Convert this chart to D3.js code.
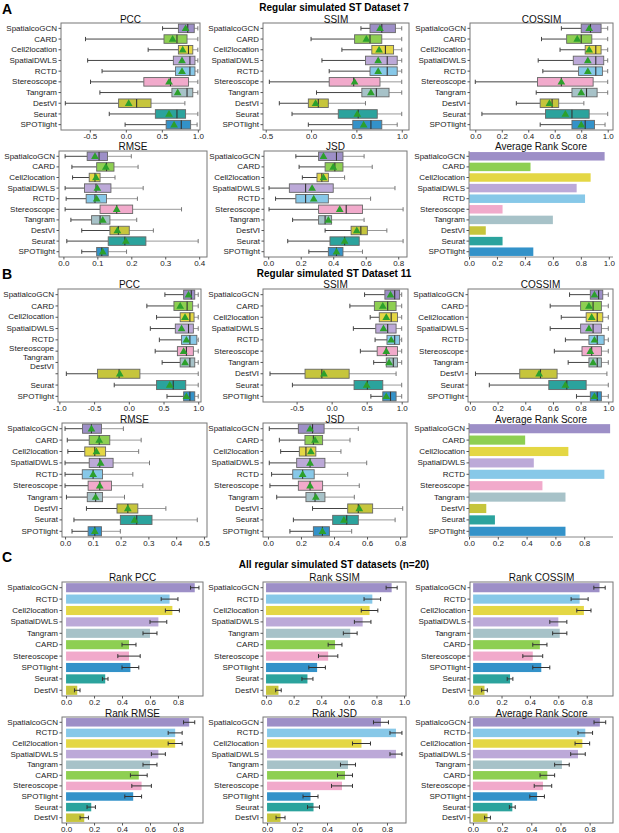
<!DOCTYPE html>
<html>
<head>
<meta charset="utf-8">
<script src="https://cdn.jsdelivr.net/npm/d3@7"></script>
<style>
  body { margin: 0; background: #fff; }
  text { font-family: "Liberation Sans", Arial, sans-serif; }
</style>
</head>
<body>
<div id="chart"></div>
<script>
// Method order used in panels A and B
const methodsAB = ['SpatialcoGCN', 'CARD', 'Cell2location', 'SpatialDWLS', 'RCTD',
  'Stereoscope', 'Tangram', 'DestVI', 'Seurat', 'SPOTlight'];
// Method order used in panel C (sorted by rank)
const methodsC = ['SpatialcoGCN', 'RCTD', 'Cell2location', 'SpatialDWLS', 'Tangram',
  'CARD', 'Stereoscope', 'SPOTlight', 'Seurat', 'DestVI'];

// Box stats per method: [low whisker, q1, median, q3, high whisker, mean]
const a7PCC = [
  [0.51, 0.73, 0.86, 0.95, 1.0, 0.83], [-0.56, 0.53, 0.71, 0.85, 1.0, 0.65],
  [0.31, 0.73, 0.87, 0.93, 1.0, 0.79], [-0.53, 0.66, 0.89, 0.96, 1.0, 0.78],
  [-0.33, 0.69, 0.89, 0.96, 1.0, 0.78], [-0.49, 0.25, 0.62, 0.87, 1.0, 0.60],
  [-0.36, 0.64, 0.85, 0.93, 1.0, 0.72], [-0.84, -0.10, 0.15, 0.35, 0.82, 0.04],
  [-0.23, 0.41, 0.71, 0.83, 1.0, 0.60], [-0.01, 0.56, 0.77, 0.90, 0.99, 0.67]
];
const a7SSIM = [
  [0.55, 0.65, 0.78, 0.93, 1.0, 0.76], [0.0, 0.48, 0.65, 0.78, 1.0, 0.61],
  [0.34, 0.67, 0.82, 0.91, 1.0, 0.75], [0.12, 0.60, 0.84, 0.95, 1.0, 0.74],
  [0.20, 0.65, 0.84, 0.95, 1.0, 0.74], [-0.46, 0.20, 0.47, 0.76, 1.0, 0.48],
  [0.06, 0.56, 0.72, 0.86, 1.0, 0.66], [-0.35, -0.03, 0.08, 0.19, 0.60, 0.05],
  [-0.21, 0.30, 0.52, 0.73, 1.0, 0.51], [-0.03, 0.46, 0.66, 0.78, 0.95, 0.58]
];
const a7COSSIM = [
  [0.65, 0.80, 0.87, 0.95, 1.0, 0.86], [0.50, 0.69, 0.80, 0.88, 1.0, 0.77],
  [0.64, 0.83, 0.91, 0.95, 1.0, 0.86], [0.475, 0.74, 0.91, 0.97, 1.0, 0.85],
  [0.51, 0.78, 0.91, 0.96, 1.0, 0.85], [0.0, 0.47, 0.65, 0.89, 1.0, 0.65],
  [0.46, 0.73, 0.84, 0.92, 1.0, 0.80], [0.31, 0.49, 0.58, 0.63, 0.82, 0.56],
  [0.05, 0.53, 0.73, 0.86, 1.0, 0.68], [0.49, 0.73, 0.83, 0.90, 0.98, 0.80]
];
const a7RMSE = [
  [0.005, 0.07, 0.105, 0.13, 0.20, 0.093], [0.025, 0.098, 0.127, 0.149, 0.22, 0.125],
  [0.027, 0.076, 0.093, 0.108, 0.152, 0.096], [0.005, 0.062, 0.096, 0.14, 0.235, 0.10],
  [0.008, 0.067, 0.093, 0.127, 0.218, 0.098], [0.005, 0.108, 0.157, 0.204, 0.348, 0.157],
  [0.022, 0.083, 0.108, 0.137, 0.216, 0.116], [0.054, 0.137, 0.162, 0.194, 0.265, 0.159],
  [0.01, 0.132, 0.181, 0.243, 0.397, 0.184], [0.054, 0.098, 0.113, 0.132, 0.186, 0.116]
];
const a7JSD = [
  [0.17, 0.31, 0.42, 0.46, 0.59, 0.34], [0.19, 0.35, 0.41, 0.46, 0.64, 0.40],
  [0.21, 0.30, 0.33, 0.37, 0.47, 0.34], [0.005, 0.13, 0.23, 0.40, 0.78, 0.27],
  [0.045, 0.17, 0.23, 0.37, 0.63, 0.28], [0.005, 0.31, 0.48, 0.58, 0.83, 0.44],
  [0.15, 0.31, 0.35, 0.39, 0.59, 0.37], [0.35, 0.51, 0.57, 0.61, 0.73, 0.545],
  [0.12, 0.38, 0.47, 0.56, 0.83, 0.47], [0.25, 0.37, 0.42, 0.46, 0.58, 0.42]
];
const a7Rank = [0.97, 0.44, 0.87, 0.77, 0.83, 0.24, 0.60, 0.12, 0.24, 0.46];

const b11PCC = [
  [0.52, 0.79, 0.90, 0.95, 1.0, 0.86], [0.26, 0.65, 0.84, 0.92, 1.0, 0.74],
  [0.40, 0.74, 0.88, 0.94, 1.0, 0.81], [0.31, 0.67, 0.86, 0.93, 1.0, 0.76],
  [0.44, 0.76, 0.88, 0.98, 1.0, 0.83], [0.38, 0.70, 0.83, 0.93, 1.0, 0.79],
  [0.48, 0.74, 0.88, 0.95, 1.0, 0.81], [-0.90, -0.45, -0.14, 0.16, 1.0, -0.13],
  [-0.21, 0.40, 0.64, 0.82, 1.0, 0.59], [0.55, 0.79, 0.88, 0.95, 1.0, 0.83]
];
const b11SSIM = [
  [0.47, 0.76, 0.90, 0.97, 1.0, 0.84], [0.26, 0.61, 0.80, 0.92, 1.0, 0.73],
  [0.55, 0.68, 0.85, 0.94, 1.0, 0.78], [0.31, 0.63, 0.80, 0.92, 1.0, 0.74],
  [0.62, 0.79, 0.90, 0.97, 1.0, 0.85], [0.41, 0.65, 0.78, 0.94, 1.0, 0.78],
  [0.60, 0.78, 0.88, 0.94, 1.0, 0.82], [-0.88, -0.38, -0.14, 0.25, 0.92, -0.11],
  [-0.56, 0.32, 0.51, 0.73, 1.0, 0.50], [0.56, 0.73, 0.84, 0.92, 1.0, 0.78]
];
const b11COSSIM = [
  [0.72, 0.87, 0.93, 0.96, 1.0, 0.90], [0.58, 0.80, 0.89, 0.95, 1.0, 0.86],
  [0.66, 0.84, 0.92, 0.96, 1.0, 0.88], [0.58, 0.80, 0.89, 0.95, 1.0, 0.86],
  [0.69, 0.86, 0.92, 0.97, 1.0, 0.90], [0.61, 0.81, 0.88, 0.95, 1.0, 0.87],
  [0.71, 0.86, 0.92, 0.95, 1.0, 0.89], [0.04, 0.36, 0.51, 0.63, 0.99, 0.50],
  [0.14, 0.57, 0.70, 0.84, 1.0, 0.69], [0.77, 0.87, 0.92, 0.95, 1.0, 0.90]
];
const b11RMSE = [
  [0.0, 0.063, 0.095, 0.131, 0.21, 0.095], [0.008, 0.087, 0.123, 0.161, 0.274, 0.123],
  [0.01, 0.071, 0.107, 0.146, 0.265, 0.113], [0.0, 0.087, 0.125, 0.173, 0.304, 0.128],
  [0.0, 0.062, 0.101, 0.135, 0.244, 0.101], [0.0, 0.083, 0.125, 0.167, 0.28, 0.125],
  [0.005, 0.08, 0.11, 0.135, 0.214, 0.11], [0.077, 0.187, 0.226, 0.262, 0.363, 0.226],
  [0.032, 0.199, 0.258, 0.313, 0.476, 0.25], [0.025, 0.083, 0.107, 0.131, 0.199, 0.107]
];
const b11JSD = [
  [0.008, 0.184, 0.27, 0.34, 0.547, 0.255], [0.069, 0.224, 0.275, 0.331, 0.497, 0.285],
  [0.077, 0.19, 0.23, 0.29, 0.442, 0.26], [0.008, 0.174, 0.255, 0.345, 0.598, 0.255],
  [0.022, 0.15, 0.21, 0.28, 0.483, 0.21], [0.012, 0.184, 0.255, 0.331, 0.553, 0.255],
  [0.053, 0.23, 0.285, 0.345, 0.523, 0.29], [0.27, 0.483, 0.547, 0.634, 0.816, 0.553],
  [0.154, 0.392, 0.477, 0.547, 0.77, 0.46], [0.133, 0.275, 0.33, 0.372, 0.507, 0.33]
];
const b11Rank = [0.98, 0.39, 0.69, 0.45, 0.94, 0.51, 0.67, 0.12, 0.18, 0.67];

// Panel C: mean rank scores and error bars (order of methodsC)
const cRankPCC = [0.92, 0.74, 0.76, 0.66, 0.60, 0.45, 0.45, 0.46, 0.28, 0.08];
const cRankPCCErr = [0.03, 0.06, 0.05, 0.06, 0.05, 0.05, 0.08, 0.06, 0.02, 0.02];
const cRankSSIM = [0.91, 0.77, 0.75, 0.70, 0.61, 0.50, 0.45, 0.37, 0.30, 0.09];
const cRankSSIMErr = [0.04, 0.06, 0.06, 0.06, 0.05, 0.05, 0.07, 0.06, 0.04, 0.02];
const cRankCOSSIM = [0.89, 0.75, 0.78, 0.60, 0.61, 0.47, 0.42, 0.48, 0.26, 0.08];
const cRankCOSSIMErr = [0.04, 0.06, 0.05, 0.06, 0.05, 0.05, 0.07, 0.06, 0.02, 0.02];
const cRankRMSE = [0.88, 0.78, 0.78, 0.66, 0.60, 0.52, 0.54, 0.48, 0.18, 0.13];
const cRankRMSEErr = [0.04, 0.05, 0.05, 0.05, 0.05, 0.06, 0.07, 0.06, 0.03, 0.03];
const cRankJSD = [0.76, 0.86, 0.63, 0.86, 0.54, 0.52, 0.50, 0.29, 0.31, 0.09];
const cRankJSDErr = [0.05, 0.04, 0.06, 0.04, 0.05, 0.05, 0.07, 0.05, 0.04, 0.03];
const cAvgRank = [0.87, 0.77, 0.75, 0.72, 0.61, 0.51, 0.48, 0.44, 0.27, 0.10];
const cAvgRankErr = [0.04, 0.05, 0.05, 0.05, 0.05, 0.05, 0.06, 0.05, 0.02, 0.02];

// Tick labels
const ticksPM = [-0.5, 0, 0.5, 1];
const ticksPM1 = [-1, -0.5, 0, 0.5, 1];
const ticks01 = [0, 0.2, 0.4, 0.6, 0.8, 1];
const ticks08 = [0, 0.2, 0.4, 0.6, 0.8];
const ticksRmseA = [0, 0.1, 0.2, 0.3, 0.4];
const ticksRmseB = [0, 0.1, 0.2, 0.3, 0.4, 0.5];

const methodColors = {
  SpatialcoGCN: '#9d8fc7', CARD: '#8ecf52', Cell2location: '#e4d744',
  SpatialDWLS: '#bca9d8', RCTD: '#87c8e8', Stereoscope: '#f1aacb',
  Tangram: '#a7c2c8', DestVI: '#c6c53c', Seurat: '#2ba39d', SPOTlight: '#3392c9'
};

const svg = d3.select('#chart').append('svg')
  .attr('width', 619)
  .attr('height', 833)
  .style('background', '#fff');

function bandScale(methods, y) {
  return d3.scaleBand().domain(methods).range(y).paddingInner(0.2).paddingOuter(0.1);
}

function drawYAxis(g, yScale, x0, shifts) {
  const ax = g.append('g')
    .attr('transform', `translate(${x0},0)`)
    .call(d3.axisLeft(yScale).tickSize(2.5).tickPadding(1.5).tickSizeOuter(0));
  ax.select('.domain').remove();
  ax.selectAll('.tick line').attr('stroke', '#555');
  ax.selectAll('.tick text').style('font-size', '8px').attr('fill', '#222');
  if (shifts) ax.selectAll('.tick text').attr('y', (d, i) => shifts[i]);
}

function drawXAxis(g, xScale, y1, ticks) {
  const ax = g.append('g')
    .attr('transform', `translate(0,${y1})`)
    .call(d3.axisBottom(xScale).tickValues(ticks).tickSize(2.5).tickPadding(1)
      .tickSizeOuter(0).tickFormat(d => d.toFixed(1)));
  ax.select('.domain').remove();
  ax.selectAll('.tick line').attr('stroke', '#555');
  ax.selectAll('.tick text').style('font-size', '8px').attr('fill', '#222');
}

function drawFrame(g, p) {
  g.append('rect')
    .attr('x', p.x[0]).attr('y', p.y[0])
    .attr('width', p.x[1] - p.x[0]).attr('height', p.y[1] - p.y[0])
    .attr('fill', 'none').attr('stroke', '#777').attr('stroke-width', 1);
}

function drawTitle(g, p) {
  g.append('text')
    .attr('x', (p.x[0] + p.x[1]) / 2)
    .attr('y', p.titleY)
    .attr('text-anchor', 'middle')
    .style('font-size', '10px')
    .attr('fill', '#111')
    .text(p.title);
}

function boxPanel(p) {
  const g = svg.append('g');
  const x = d3.scaleLinear().domain(p.domain).range(p.x);
  const y = bandScale(methodsAB, p.y);
  const h = y.bandwidth();
  const tri = d3.symbol().type(d3.symbolTriangle).size(26);

  p.data.forEach((d, i) => {
    const m = methodsAB[i];
    const cy = y(m) + h / 2;
    const capH = h * 0.5;
    // whiskers
    g.append('line').attr('x1', x(d[0])).attr('x2', x(d[1])).attr('y1', cy).attr('y2', cy)
      .attr('stroke', '#444').attr('stroke-width', 1);
    g.append('line').attr('x1', x(d[3])).attr('x2', x(d[4])).attr('y1', cy).attr('y2', cy)
      .attr('stroke', '#999').attr('stroke-width', 1);
    // caps
    g.append('line').attr('x1', x(d[0])).attr('x2', x(d[0])).attr('y1', cy - capH / 2).attr('y2', cy + capH / 2)
      .attr('stroke', '#444').attr('stroke-width', 1);
    g.append('line').attr('x1', x(d[4])).attr('x2', x(d[4])).attr('y1', cy - capH / 2).attr('y2', cy + capH / 2)
      .attr('stroke', '#777').attr('stroke-width', 1);
    // box
    g.append('rect')
      .attr('x', x(d[1])).attr('y', y(m))
      .attr('width', x(d[3]) - x(d[1])).attr('height', h)
      .attr('fill', methodColors[m])
      .attr('stroke', '#666').attr('stroke-width', 0.9);
    // median
    g.append('line').attr('x1', x(d[2])).attr('x2', x(d[2])).attr('y1', y(m)).attr('y2', y(m) + h)
      .attr('stroke', '#333').attr('stroke-width', 1.1);
    // mean
    g.append('path').attr('d', tri)
      .attr('transform', `translate(${x(d[5])},${cy + 0.5})`)
      .attr('fill', '#2ca02c');
  });

  drawFrame(g, p);
  drawYAxis(g, y, p.x[0], p.labelShift);
  drawXAxis(g, x, p.y[1], p.ticks);
  drawTitle(g, p);
}

function barPanel(p) {
  const g = svg.append('g');
  const methods = p.methods;
  const x = d3.scaleLinear().domain(p.domain).range(p.x);
  const y = bandScale(methods, p.y);
  const x0 = x(0);

  g.selectAll('rect.bar')
    .data(p.data)
    .enter()
    .append('rect')
    .attr('class', 'bar')
    .attr('x', x0)
    .attr('y', (d, i) => y(methods[i]))
    .attr('width', d => x(d) - x0)
    .attr('height', y.bandwidth())
    .attr('fill', (d, i) => methodColors[methods[i]]);

  if (p.err) {
    p.data.forEach((d, i) => {
      const cy = y(methods[i]) + y.bandwidth() / 2;
      const lo = x(d - p.err[i]), hi = x(d + p.err[i]);
      g.append('line').attr('x1', lo).attr('x2', hi).attr('y1', cy).attr('y2', cy)
        .attr('stroke', '#333').attr('stroke-width', 1);
      [lo, hi].forEach(xx => {
        g.append('line').attr('x1', xx).attr('x2', xx).attr('y1', cy - 2).attr('y2', cy + 2)
          .attr('stroke', '#333').attr('stroke-width', 1);
      });
    });
  }

  if (p.framed) {
    drawFrame(g, p);
  } else {
    // open spines: left and bottom
    g.append('line').attr('x1', p.x[0]).attr('x2', p.x[0]).attr('y1', p.y[0]).attr('y2', p.y[1])
      .attr('stroke', '#888');
    g.append('line').attr('x1', p.x[0]).attr('x2', p.x[1]).attr('y1', p.y[1]).attr('y2', p.y[1])
      .attr('stroke', '#888');
  }
  drawYAxis(g, y, p.x[0]);
  drawXAxis(g, x, p.y[1], p.ticks);
  drawTitle(g, p);
}

// Section A
boxPanel({ title: 'PCC', data: a7PCC, x: [61, 200], y: [23, 130], titleY: 22.5, domain: [-0.90, 1.03], ticks: ticksPM });
boxPanel({ title: 'SSIM', data: a7SSIM, x: [263, 409], y: [23, 130], titleY: 22.5, domain: [-0.53, 1.08], ticks: ticksPM });
boxPanel({ title: 'COSSIM', data: a7COSSIM, x: [470, 613], y: [23, 130], titleY: 22.5, domain: [-0.04, 1.04], ticks: ticks01 });
boxPanel({ title: 'RMSE', data: a7RMSE, x: [59, 207], y: [151, 257], titleY: 150.3, domain: [-0.013, 0.423], ticks: ticksRmseA });
boxPanel({ title: 'JSD', data: a7JSD, x: [264, 407], y: [151, 257], titleY: 150.3, domain: [-0.026, 0.854], ticks: ticks08 });
barPanel({ title: 'Average Rank Score', methods: methodsAB, data: a7Rank, x: [469, 613], y: [151, 257], titleY: 150.3, domain: [0, 1.03], ticks: ticks01 });

// Section B
boxPanel({ title: 'PCC', data: b11PCC, x: [58, 201], y: [289, 402], titleY: 288.3, domain: [-1.02, 1.04], ticks: ticksPM1,
  labelShift: [0, 0, -1, 0, 0, -3, -5, -7, 0, 0] });
boxPanel({ title: 'SSIM', data: b11SSIM, x: [263, 408], y: [289, 402], titleY: 288.3, domain: [-0.98, 1.09], ticks: ticksPM });
boxPanel({ title: 'COSSIM', data: b11COSSIM, x: [468, 613], y: [289, 402], titleY: 288.3, domain: [-0.014, 1.034], ticks: ticks01 });
boxPanel({ title: 'RMSE', data: b11RMSE, x: [62, 207], y: [423, 537], titleY: 422.5, domain: [-0.011, 0.511], ticks: ticksRmseB });
boxPanel({ title: 'JSD', data: b11JSD, x: [263, 407], y: [423, 537], titleY: 422.5, domain: [-0.03, 0.842], ticks: ticks08 });
barPanel({ title: 'Average Rank Score', methods: methodsAB, data: b11Rank, x: [469, 613], y: [423, 537], titleY: 422.5, domain: [0, 1.0], ticks: ticks08 });

// Section C
barPanel({ title: 'Rank PCC', methods: methodsC, data: cRankPCC, err: cRankPCCErr, framed: true, x: [62, 203], y: [582, 696], titleY: 580.5, domain: [-0.029, 0.979], ticks: ticks08 });
barPanel({ title: 'Rank SSIM', methods: methodsC, data: cRankSSIM, err: cRankSSIMErr, framed: true, x: [263, 406], y: [582, 696], titleY: 580.5, domain: [-0.022, 1.014], ticks: ticks01 });
barPanel({ title: 'Rank COSSIM', methods: methodsC, data: cRankCOSSIM, err: cRankCOSSIMErr, framed: true, x: [470, 613], y: [582, 696], titleY: 580.5, domain: [-0.022, 0.985], ticks: ticks08 });
barPanel({ title: 'Rank RMSE', methods: methodsC, data: cRankRMSE, err: cRankRMSEErr, framed: true, x: [62, 203], y: [717, 823], titleY: 716.6, domain: [-0.029, 0.979], ticks: ticks08 });
barPanel({ title: 'Rank JSD', methods: methodsC, data: cRankJSD, err: cRankJSDErr, framed: true, x: [263, 406], y: [717, 823], titleY: 716.6, domain: [-0.027, 0.927], ticks: ticks08 });
barPanel({ title: 'Average Rank Score', methods: methodsC, data: cAvgRank, err: cAvgRankErr, framed: true, x: [470, 613], y: [717, 823], titleY: 716.6, domain: [-0.02, 0.96], ticks: ticks08 });

// Section letters and titles
const headers = [
  { letter: 'A', ly: 14, title: 'Regular simulated ST Dataset 7', ty: 11 },
  { letter: 'B', ly: 279, title: 'Regular simulated ST Dataset 11', ty: 276.5 },
  { letter: 'C', ly: 562, title: 'All regular simulated ST datasets (n=20)', ty: 568 }
];
headers.forEach(h => {
  svg.append('text').attr('x', 2).attr('y', h.ly)
    .style('font-size', '14px').style('font-weight', '700').attr('fill', '#000')
    .text(h.letter);
  svg.append('text').attr('x', 334).attr('y', h.ty).attr('text-anchor', 'middle')
    .style('font-size', '10px').style('font-weight', '700').attr('fill', '#000')
    .text(h.title);
});
</script>
</body>
</html>
